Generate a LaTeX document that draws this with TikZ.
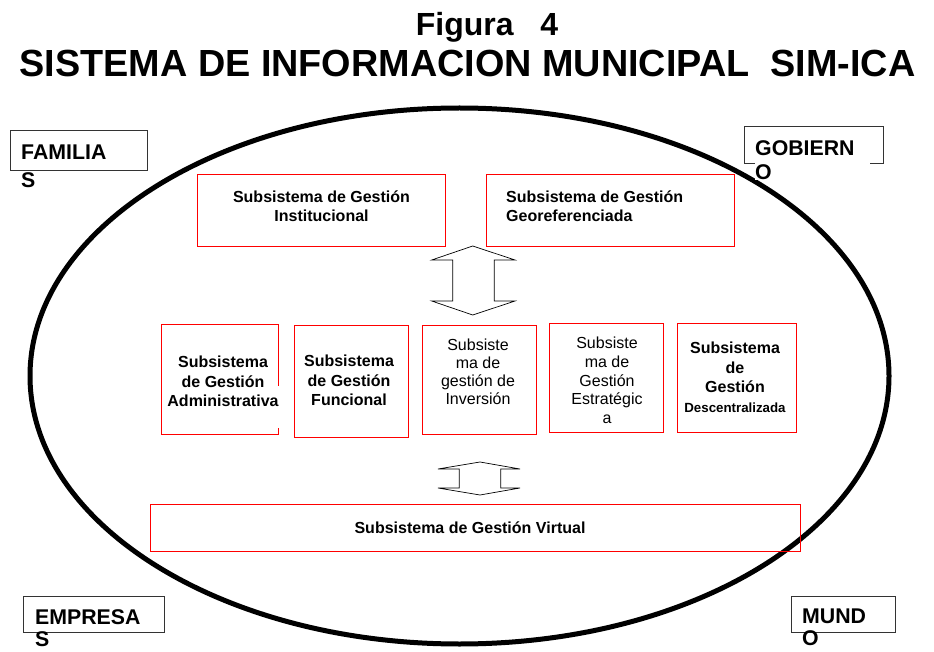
\documentclass[tikz,border=0pt]{standalone}
\usepackage{fontspec}
\setmainfont{Liberation Sans}
\usetikzlibrary{calc}

\begin{document}
\begin{tikzpicture}[x=1pt, y=-1pt,
  redbox/.style={draw=red, line width=0.9pt, inner sep=0pt},
  outbox/.style={draw=black!80, line width=0.8pt, fill=white, inner sep=0pt, anchor=north west},
  boldtxt/.style={font=\fontsize{16}{19.5}\selectfont\bfseries, align=center, inner sep=0pt, anchor=north},
  plaintxt/.style={font=\fontsize{16}{18.2}\selectfont, align=center, inner sep=0pt, anchor=north},
  outtxt/.style={font=\fontsize{21.3}{24.5}\selectfont\bfseries, align=left, inner sep=0pt, anchor=north west},
  blockarrow/.style={draw=black, line width=0.7pt, line join=miter},
]
\useasboundingbox (0,0) rectangle (934,652);

% Title
\node[font=\fontsize{32}{36}\selectfont\bfseries, anchor=base] (fig) at (487,36) {Figura~~~4};
\node[font=\fontsize{37.8}{40}\selectfont\bfseries, anchor=base] (title) at (467.5,77)
  {SISTEMA DE INFORMACION MUNICIPAL~~SIM-ICA};

% Big ellipse
\draw[line width=5pt] (459.5,376) ellipse [x radius=429.5, y radius=268];

% === Top row ===
\node[redbox, minimum width=248, minimum height=72] (inst) at (321,210) {};
\node[boldtxt, font=\fontsize{16}{18.6}\selectfont\bfseries] (insttxt) at (321.5,191)
  {Subsistema de Gestión\\Institucional};
\node[redbox, minimum width=248, minimum height=72] (geo) at (610,210) {};
\node[boldtxt, font=\fontsize{16}{18.6}\selectfont\bfseries, align=left, anchor=north west] (geotxt) at (506,191)
  {Subsistema de Gestión\\Georeferenciada};

% Double arrow between top and middle rows
\draw[blockarrow] (472.7,246) -- (515,260) -- (494.3,260) -- (494.3,301) -- (515,301)
  -- (472.7,315) -- (431.7,301) -- (452.7,301) -- (452.7,260) -- (431.7,260) -- cycle;

% === Middle row ===
\node[minimum width=116, minimum height=109, inner sep=0pt] (admin) at (220,379.5) {};
\draw[red, line width=0.9pt] ($(admin.north east)+(0,61)$) -- (admin.north east) -- (admin.north west)
  -- (admin.south west) -- (admin.south east) -- ++(0,-6);
\node[boldtxt] (admintxt) at (223,356) {Subsistema\\de Gestión\\Administrativa};

\node[redbox, minimum width=114, minimum height=112] (func) at (351,381) {};
\node[boldtxt] (functxt) at (349,355) {Subsistema\\de Gestión\\Funcional};

\node[redbox, minimum width=114, minimum height=109] (inv) at (479,379.5) {};
\node[plaintxt, font=\fontsize{16}{17.8}\selectfont] (invtxt) at (478,339) {Subsiste\\ma de\\gestión de\\Inversión};

\node[redbox, minimum width=114, minimum height=109] (estr) at (606,377.5) {};
\node[plaintxt, font=\fontsize{16}{18.7}\selectfont] (estrtxt) at (607,337) {Subsiste\\ma de\\Gestión\\Estratégic\\a};

\node[redbox, minimum width=119, minimum height=109] (desc) at (736.5,377.5) {};
\node[boldtxt] (desctxt) at (735,342)
  {Subsistema\\de\\Gestión\\{\fontsize{13.3}{16}\selectfont Descentralizada}};

% Double arrow between middle and bottom rows
\draw[blockarrow] (480,462) -- (520,469) -- (500.7,469) -- (500.7,488) -- (520,488)
  -- (480,495) -- (438,488) -- (459.3,488) -- (459.3,469) -- (438,469) -- cycle;

% === Bottom row ===
\node[redbox, minimum width=650, minimum height=47] (virt) at (475,527.5) {};
\node[boldtxt, anchor=base] (virttxt) at (470,533) {Subsistema de Gestión Virtual};

% === Corner labels ===
\node[outbox, minimum width=137, minimum height=40] (familias) at (10,130) {};
\node[outtxt] (familiastxt) at (21,145) {FAMILIA\\[3.5pt]S};

\node[outbox, minimum width=139, minimum height=37] (gobierno) at (744,126) {};
\node[outtxt, fill=white, text width=115pt] (gobiernotxt) at (755,140) {GOBIERN\\O};

\node[outbox, minimum width=141, minimum height=36] (empresas) at (23,596) {};
\node[outtxt, font=\fontsize{21.3}{22}\selectfont\bfseries] (empresastxt) at (35,609) {EMPRESA\\S};

\node[outbox, minimum width=104, minimum height=36] (mundo) at (791,596) {};
\node[outtxt, font=\fontsize{21.3}{22}\selectfont\bfseries] (mundotxt) at (802,609) {MUND\\O};

\end{tikzpicture}
\end{document}
